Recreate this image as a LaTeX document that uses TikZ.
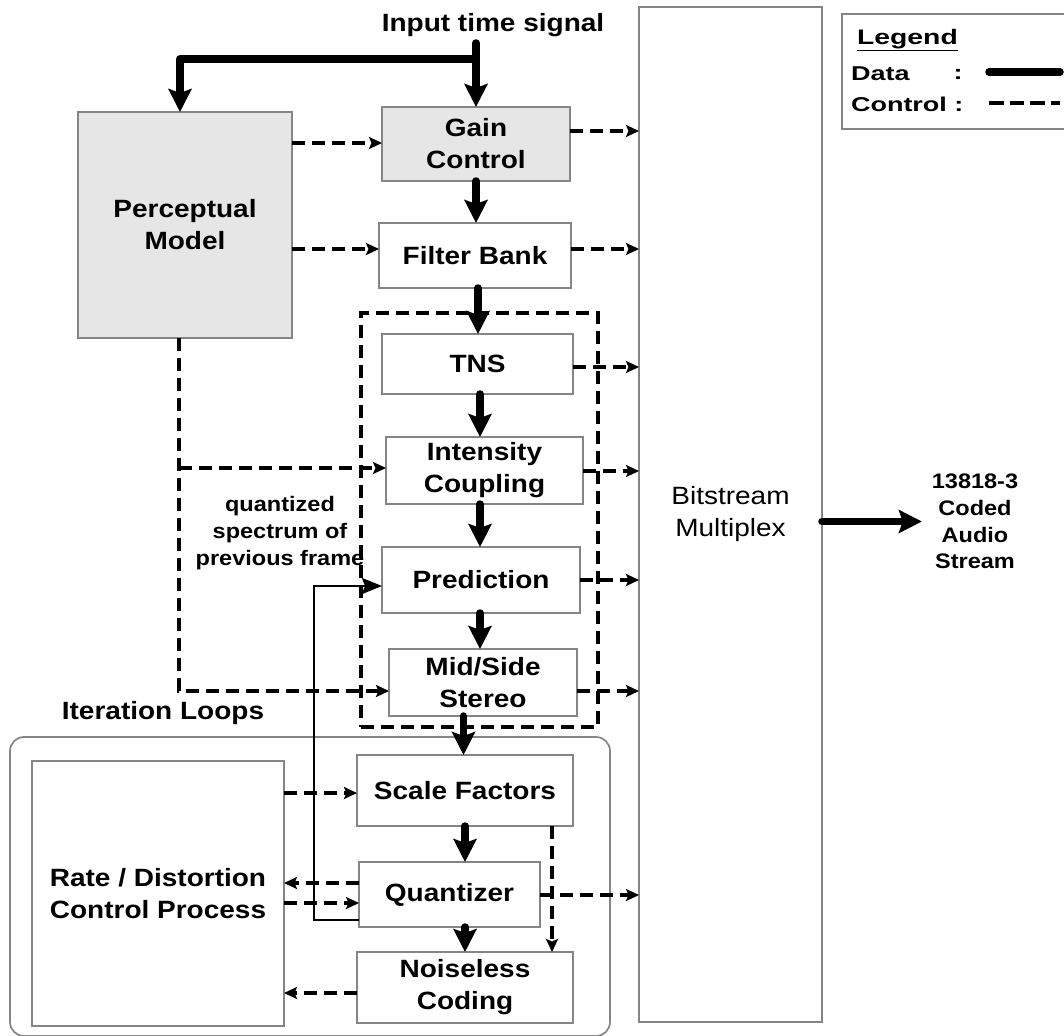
\documentclass[tikz,border=0pt]{standalone}
\usepackage{fontspec}
\setmainfont{Liberation Sans}[FakeStretch=1.12]
\newfontfamily\legendfont{Liberation Sans}[FakeStretch=1.35]
\usetikzlibrary{arrows.meta}

\definecolor{boxgray}{HTML}{858585}
\definecolor{shade}{HTML}{E6E6E6}

\newcommand\blockfont{\fontsize{25}{32}\selectfont\bfseries}
\newcommand\plainblockfont{\fontsize{25}{32}\selectfont}
\newcommand\notefont{\fontsize{21}{26.7}\selectfont\bfseries}
\newcommand\keyfont{\legendfont\fontsize{20}{24}\selectfont\bfseries}
\newcommand\keytitlefont{\legendfont\fontsize{21}{25}\selectfont\bfseries}

\begin{document}
\begin{tikzpicture}[x=1pt,y=-1pt,
  box/.style={draw=boxgray, line width=1.7pt, inner sep=0pt, outer sep=0pt,
              align=center, font=\blockfont},
  groupbox/.style={draw=black, line width=3.2pt, dash pattern=on 13pt off 7pt,
                   inner sep=0pt, outer sep=0pt},
  loopbox/.style={draw=boxgray, line width=1.7pt, rounded corners=14pt,
                  inner sep=0pt, outer sep=0pt},
  label/.style={inner sep=0pt, outer sep=0pt, align=center},
  data/.style={line width=7.5pt, line cap=round, line join=round,
               -{Stealth[length=23pt,width=23pt,inset=4pt]}},
  ctrl/.style={line width=3.3pt, dash pattern=on 13pt off 7pt,
               -{Stealth[length=13pt,width=12pt,inset=2.5pt]}},
  thinarr/.style={line width=2pt, -{Stealth[length=20pt,width=16pt,inset=3pt]}},
]
\useasboundingbox (0,0) rectangle (1064,1035);

% ---------- blocks ----------
\node[box, fill=shade, minimum width=214pt, minimum height=226pt] (pm) at (185,225) {Perceptual\\Model};
\node[box, fill=shade, minimum width=188pt, minimum height=74pt] (gc) at (476,144) {Gain\\Control};
\node[box, minimum width=192pt, minimum height=65pt] (fb) at (475,255.5) {Filter Bank};

\node[groupbox, minimum width=237pt, minimum height=414pt] (grp) at (479.5,520) {};
\node[box, minimum width=191pt, minimum height=60pt] (tns) at (477.5,364) {TNS};
\node[box, minimum width=197pt, minimum height=67pt] (ic) at (484.5,470.5) {Intensity\\Coupling};
\node[box, minimum width=198pt, minimum height=66pt] (pr) at (481,580) {Prediction};
\node[box, minimum width=188pt, minimum height=67pt] (ms) at (483,682.5) {Mid/Side\\Stereo};

\node[box, font=\plainblockfont, minimum width=183pt, minimum height=1015pt] (bs) at (730.5,514.5) {Bitstream\\Multiplex};

\node[loopbox, minimum width=600pt, minimum height=299pt] (loop) at (310,886.5) {};
\node[box, minimum width=252pt, minimum height=265pt] (rd) at (158,893.5) {Rate / Distortion\\Control Process};
\node[box, minimum width=216pt, minimum height=71pt] (sf) at (465,790.5) {Scale Factors};
\node[box, minimum width=181pt, minimum height=65pt] (qz) at (449.5,894.5) {Quantizer};
\node[box, minimum width=216pt, minimum height=71pt] (nc) at (465,987.5) {Noiseless\\Coding};

% ---------- free labels ----------
\node[label, font=\blockfont] (intxt) at (493,25) {Input time signal};
\node[label, font=\blockfont] (iltxt) at (163,713) {Iteration Loops};
\node[label, font=\notefont] (qtxt) at (280,533) {quantized\\spectrum of\\previous frame};
\node[label, font=\notefont] (out) at (975,521.5) {13818-3\\Coded\\Audio\\Stream};

% ---------- legend ----------
\node[draw=boxgray, line width=1.7pt, inner sep=0pt, minimum width=228pt, minimum height=115pt] (leg) at (956,71.5) {};
\node[label, anchor=west, font=\keytitlefont] (legt) at (857,40) {\underline{Legend}};
\node[label, anchor=west, font=\keyfont] (legd) at (851,74) {Data};
\node[label, font=\keyfont] (legdc) at (958,74) {:};
\node[label, anchor=west, font=\keyfont] (legc) at (851,104) {Control :};
\coordinate (keyd1) at (989,72);
\coordinate (keyd2) at (1060,72);
\coordinate (keyc1) at (989,103);
\coordinate (keyc2) at (1060,103);
\draw[line width=7.5pt, line cap=round] (keyd1) -- (keyd2);
\draw[line width=3.2pt, dash pattern=on 14.5pt off 6pt] (keyc1) -- (keyc2);

% ---------- attachment points ----------
\coordinate (src) at (476,43);
\coordinate (split) at (476,59);
\coordinate (pmin) at ([xshift=-5pt]pm.north);
\coordinate (fbout) at ([xshift=3pt]fb.south);
\coordinate (tnsout) at ([xshift=2.5pt]tns.south);
\coordinate (icout) at ([xshift=-4.5pt]ic.south);
\coordinate (prout) at ([xshift=-1pt]pr.south);
\coordinate (msout) at ([xshift=-19.5pt]ms.south);
\coordinate (qzout) at ([xshift=15.5pt]qz.south);
\coordinate (outtip) at ([xshift=-10pt]out.west);

\coordinate (gcin) at ([yshift=1pt]gc.west);
\coordinate (fbin) at ([yshift=6.5pt]fb.west);
\coordinate (gco) at ([yshift=13pt]gc.east);
\coordinate (fbo) at ([yshift=6.5pt]fb.east);
\coordinate (tnso) at ([yshift=-3pt]tns.east);
\coordinate (ico) at ([yshift=-0.5pt]ic.east);
\coordinate (pro) at (pr.east);
\coordinate (mso) at ([yshift=-8.5pt]ms.east);
\coordinate (qzo) at ([yshift=-0.5pt]qz.east);
\coordinate (pmdrop) at ([xshift=-6pt]pm.south);
\coordinate (icin) at ([yshift=2.5pt]ic.west);
\coordinate (msin) at ([yshift=-8.5pt]ms.west);
\coordinate (sfin) at ([yshift=-2.5pt]sf.west);
\coordinate (qzback) at ([yshift=11.5pt]qz.west);
\coordinate (qzin) at ([yshift=-8.5pt]qz.west);
\coordinate (ncback) at ([yshift=-5.5pt]nc.west);
\coordinate (sfo) at ([xshift=87pt]sf.south);
\coordinate (qzfb) at ([yshift=-25.5pt]qz.west);
\coordinate (prfb) at ([yshift=-6pt]pr.west);

% ---------- data paths ----------
\draw[data] (src) -- (gc.north);
\draw[data] (split) -| (pmin);
\draw[data] (gc.south) -- (gc.south |- fb.north);
\draw[data] (fbout) -- (fbout |- tns.north);
\draw[data] (tnsout) -- (tnsout |- ic.north);
\draw[data] (icout) -- (icout |- pr.north);
\draw[data] (prout) -- (prout |- ms.north);
\draw[data] (msout) -- (msout |- sf.north);
\draw[data] (sf.south) -- (sf.south |- qz.north);
\draw[data] (qzout) -- (qzout |- nc.north);
\draw[data] (bs.east |- outtip) -- (outtip);

% ---------- control paths ----------
\draw[ctrl] (gcin -| pm.east) -- (gcin);
\draw[ctrl] (fbin -| pm.east) -- (fbin);
\draw[ctrl] (gco) -- (gco -| bs.west);
\draw[ctrl] (fbo) -- (fbo -| bs.west);
\draw[ctrl] (tnso) -- (tnso -| bs.west);
\draw[ctrl] (ico) -- (ico -| bs.west);
\draw[ctrl] (pro) -- (pro -| bs.west);
\draw[ctrl] (mso) -- (mso -| bs.west);
\draw[ctrl] (qzo) -- (qzo -| bs.west);
\draw[ctrl] (pmdrop) |- (msin);
\draw[ctrl] (icin -| pmdrop) -- (icin);
\draw[ctrl] (sfin -| rd.east) -- (sfin);
\draw[ctrl] (qzback) -- (qzback -| rd.east);
\draw[ctrl] (qzin -| rd.east) -- (qzin);
\draw[ctrl] (ncback) -- (ncback -| rd.east);
\draw[ctrl] (sfo) -- (sfo |- nc.north);

% ---------- quantized spectrum fed back to prediction ----------
\draw[thinarr] (qzfb) -- ++(-45,0) |- (prfb);

\end{tikzpicture}
\end{document}
